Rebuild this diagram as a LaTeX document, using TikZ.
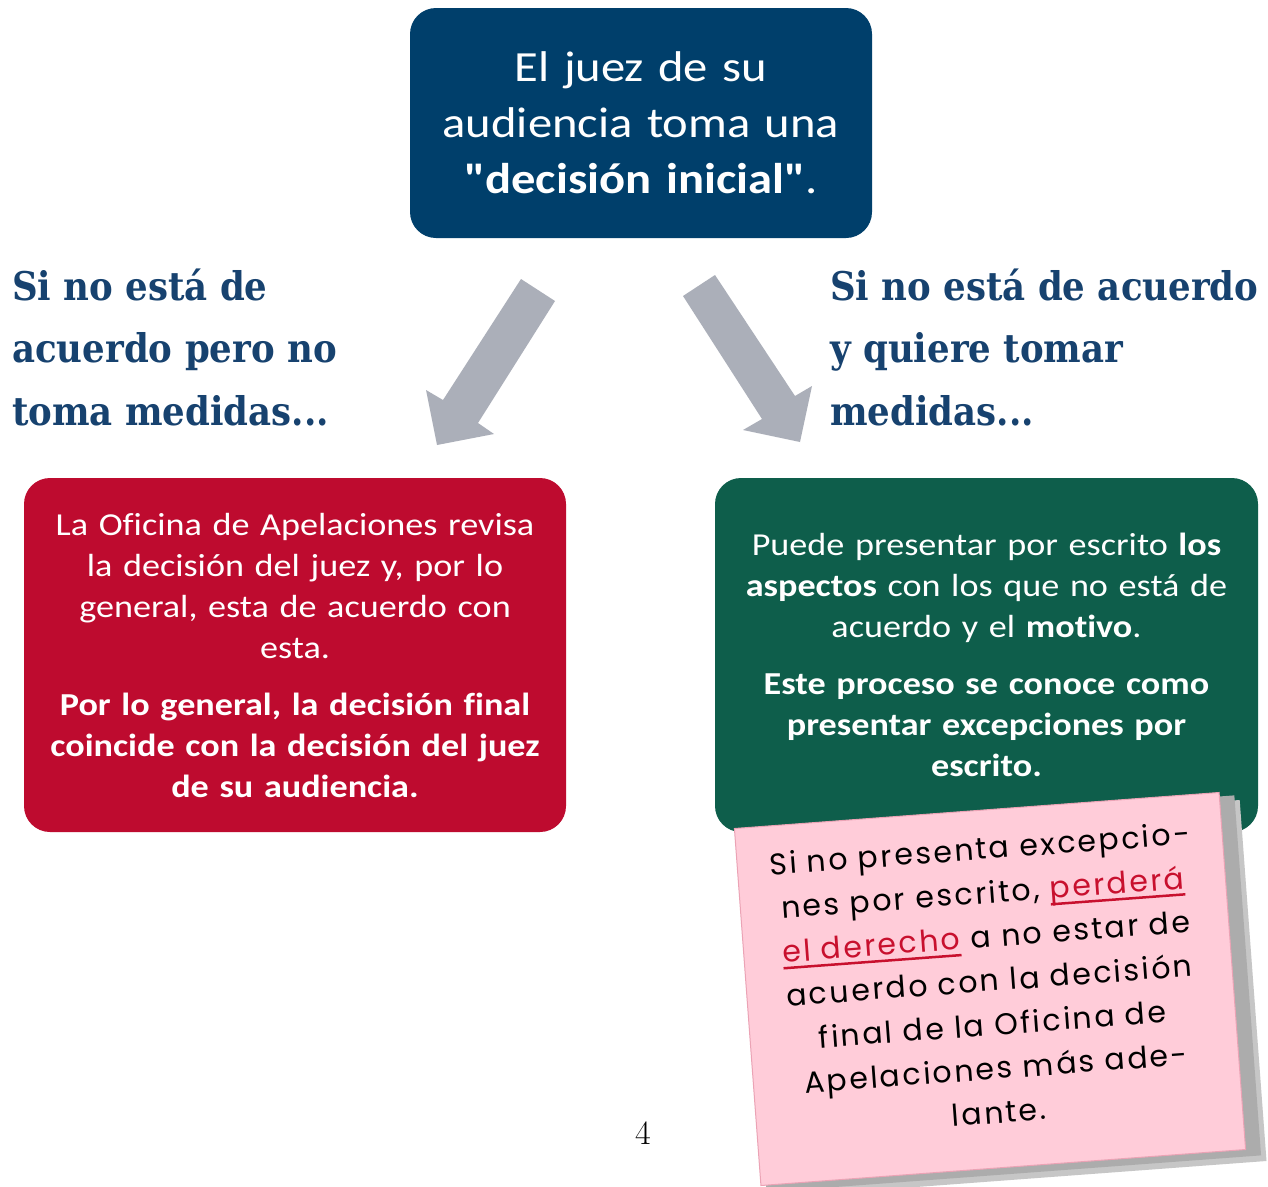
\documentclass[tikz,border=0pt]{standalone}
\usepackage{fontspec}
\setmainfont{Carlito}[Ligatures={TeXOff,NoCommon}, FakeStretch=1.13]
\newfontfamily\hdrfont{DejaVu Serif}[FakeStretch=0.9]
\newfontfamily\notefont{Poppins}[LetterSpace=8]
\newfontfamily\lmfont{Latin Modern Roman}
\definecolor{navy}{HTML}{003F6B}
\definecolor{hdrblue}{HTML}{17426F}
\definecolor{redbox}{HTML}{BE0B2F}
\definecolor{greenbox}{HTML}{0E5E4B}
\definecolor{arrowgray}{HTML}{ABAFB9}
\definecolor{notepink}{HTML}{FFCCD9}
\definecolor{noteedge}{HTML}{EBA3B5}
\definecolor{notered}{HTML}{C8102E}
\newcommand\myul[1]{\setbox0\hbox{#1}\rlap{\rule[-7pt]{\wd0}{2.5pt}}\box0}
\tikzset{
  box/.style={rounded corners=26pt, text=white, align=center, inner sep=0pt},
  hdr/.style={anchor=base west, align=left, text=hdrblue, font=\hdrfont\bfseries\fontsize{39.5}{62.5}\selectfont, inner sep=0pt},
  bigarrow/.style={fill=arrowgray},
}
\begin{document}
\begin{tikzpicture}[x=1pt,y=-1pt]
\useasboundingbox (0,0) rectangle (1268,1186);
\fill[white] (0,0) rectangle (1268,1186);

% top box
\node[box, fill=navy, minimum width=462pt, minimum height=230pt, text width=440pt,
  font=\fontsize{43}{56}\selectfont] (top) at (641,123)
  {El juez de su\\audiencia toma una\\\textbf{"decisión inicial"}.};

% headers
\node[hdr] (hl) at (12,425) {Si no está de\\acuerdo pero no\\toma medidas...};
\node[hdr] (hr) at (830,425) {Si no está de acuerdo\\y quiere tomar\\medidas...};

% arrows
\fill[bigarrow] (521,279) -- (555,301) -- (478,423) -- (494,434) -- (437,445) -- (426,390) -- (443,400) -- cycle;
\fill[bigarrow] (715,275) -- (683,296) -- (762,419) -- (743,430) -- (800,442) -- (812,386) -- (795,396) -- cycle;

% red box
\node[box, fill=redbox, minimum width=542pt, minimum height=354pt, text width=530pt,
  font=\fontsize{32}{41}\selectfont] (left) at (295,655)
  {La Oficina de Apelaciones revisa\\la decisión del juez y, por lo\\general, esta de acuerdo con\\esta.\\[16pt]
   \textbf{Por lo general, la decisión final}\\\textbf{coincide con la decisión del juez}\\\textbf{de su audiencia.}};

% green box
\node[box, fill=greenbox, minimum width=543pt, minimum height=354pt, text width=530pt,
  font=\fontsize{32}{41}\selectfont] (right) at (986.5,655)
  {Puede presentar por escrito \textbf{los}\\\textbf{aspectos} con los que no está de\\acuerdo y el \textbf{motivo}.\\[16pt]
   \textbf{Este proceso se conoce como}\\\textbf{presentar excepciones por}\\\textbf{escrito.}};

% page number
\node[font=\lmfont\fontsize{34}{40}\selectfont, inner sep=0pt] (pnum) at (643,1133) {4};

% sticky note
\begin{scope}[shift={(990,989)}, rotate=4.25]
  \fill[gray!45] (-233,-170) rectangle (263,192);
  \fill[gray!65] (-238,-175) rectangle (258,186);
  \filldraw[fill=notepink, draw=noteedge, line width=1pt] (-243,-179) rectangle (243,179);
  \node[transform shape, align=center, inner sep=0pt, text=black,
    font=\notefont\fontsize{30}{44}\selectfont] (note) at (0,-9)
    {Si no presenta excepcio-\\nes por escrito, \textcolor{notered}{\myul{perderá}}\\
     \textcolor{notered}{\myul{el derecho}} a no estar de\\acuerdo con la decisión\\
     final de la Oficina de\\Apelaciones más ade-\\lante.};
\end{scope}
\end{tikzpicture}
\end{document}
